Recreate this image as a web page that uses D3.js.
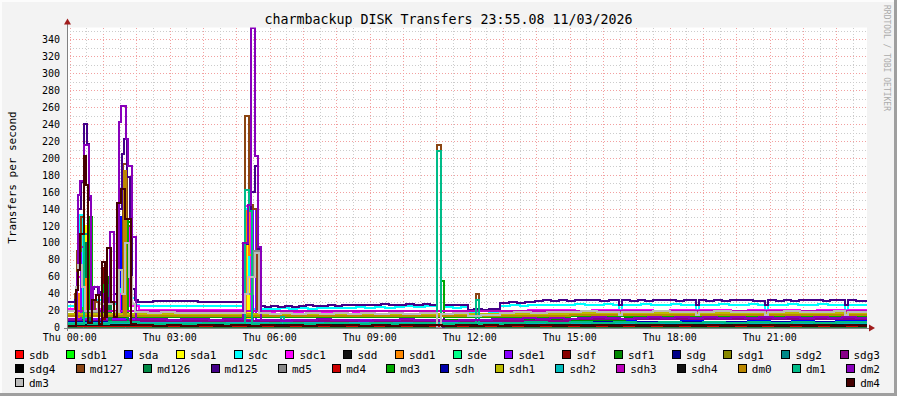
<!DOCTYPE html>
<html>
<head>
<meta charset="utf-8">
<script src="https://cdn.jsdelivr.net/npm/d3@7"></script>
<style>
  html, body { margin: 0; padding: 0; background: #f3f3f3; }
  svg { display: block; font-family: "DejaVu Sans Mono", monospace; }
</style>
</head>
<body>
<svg id="chart" width="897" height="396"></svg>
<script>
// time is minutes after Thu 00:00, each value holds until the next point (step lines)
const sdb   = [[-5,2],[300,2.5],[700,2],[1100,2.5]];
const sdb1  = [[-5,1],[22,40],[27,1],[98,30],[103,1]];
const sda   = [[-5,9],[12,35],[16,9],[40,8],[90,130],[94,9],[125,5],[160,5.5],[200,5],[240,6],[280,5],[330,8],[345,4],[380,4.5],[420,4],[460,5],[500,4.5],[540,5],[580,4.5],[620,5.5],[660,5],[700,6],[740,5.5],[780,6],[820,7],[860,6.5],[900,7],[940,6.5],[980,7.5],[1020,7],[1060,6.5],[1100,7.5],[1140,7],[1180,6.5],[1220,7.5],[1260,7],[1300,8],[1340,7],[1380,7.5]];
const sda1  = [[-5,2],[25,120],[29,2],[96,112],[100,2],[320,115],[324,2],[380,3],[700,2]];
const sdc   = [[-5,25.5],[14,80],[18,133],[24,25],[36,30],[46,33],[60,20],[75,28],[90,45],[100,52],[110,35],[120,26],[125,25.5],[170,25],[215,25.5],[260,25],[316,140],[322,60],[327,22],[345,22],[360,21.5],[378,22.5],[395,22],[410,23],[428,22],[445,23],[462,22.5],[480,23.5],[498,23],[515,24],[532,23.5],[550,24.5],[568,23.5],[585,24.5],[602,25],[620,24],[640,25],[661,1],[673,24],[690,23.5],[705,24.5],[716,18],[735,19],[755,18],[775,25],[792,26],[810,25],[825,26.5],[840,27],[858,26],[875,27],[892,26.5],[910,27.5],[928,26.5],[945,27],[962,28],[978,27],[989,21],[994,27],[1010,26.5],[1028,27.5],[1046,26.5],[1064,27],[1082,28],[1100,27],[1115,26.5],[1127,21],[1132,27],[1150,26],[1168,27.5],[1186,26.5],[1204,27],[1222,28],[1238,27],[1252,21],[1257,27],[1275,26.5],[1293,27.5],[1311,26.5],[1329,27],[1347,28],[1365,27],[1382,26.5],[1396,21],[1401,27],[1418,26.5]];
const sdc1  = [[-5,21.5],[14,60],[20,130],[26,22],[60,15],[90,40],[100,120],[106,25],[125,20.5],[180,21],[240,20.5],[316,143],[327,19],[345,18.5],[370,19],[395,18],[420,19],[450,18.5],[480,19.5],[510,18.5],[540,19],[570,19.5],[600,19],[630,20],[661,1],[673,19],[695,19.5],[716,15],[745,16],[775,19.5],[800,20],[825,21],[850,20.5],[880,21],[910,20],[940,21],[970,20.5],[989,17],[994,20.5],[1020,21],[1050,20],[1080,21],[1110,20.5],[1127,17],[1132,20.5],[1160,21],[1190,20],[1220,21],[1252,17],[1257,20.5],[1285,21],[1315,20],[1345,21],[1375,20.5],[1396,17],[1401,20.5]];
const sdd   = [[-5,2],[40,3],[125,2],[500,2.5],[900,2]];
const sdd1  = [[-5,2],[15,40],[19,2],[30,80],[34,2],[100,60],[104,2],[318,138],[322,85],[328,2],[900,2]];
const sde   = [[-5,1],[30,20],[35,1],[660,1]];
const sde1  = [[-5,10],[20,95],[26,10],[100,120],[104,10],[125,9],[330,140],[336,9],[700,8],[1000,11],[1200,11]];
const sdf   = [[-5,2],[60,70],[64,2],[125,2]];
const sdf1  = [[-5,13],[35,130],[40,13],[65,60],[70,12],[103,125],[110,12],[130,8],[600,9],[1000,12]];
const sdg   = [[-5,5],[125,4],[800,6],[1200,5]];
const sdg1  = [[-5,14],[125,15],[500,13],[900,16],[1200,16]];
const sdg2  = [[-5,3],[125,3],[900,3.5]];
const sdg3  = [[-5,8],[125,8],[900,10]];
const sdg4  = [[-5,1]];
const md127 = [[-5,14],[10,40],[14,90],[20,130],[26,14],[45,30],[50,14],[96,193],[103,120],[110,16],[125,13.5],[150,14.5],[175,13.5],[200,14.5],[225,13.5],[250,14],[275,15],[300,14],[316,249],[323,145],[330,140],[337,20],[344,13],[365,15],[378,12.5],[400,14.5],[420,12.5],[445,14.5],[470,13],[500,15],[515,12.5],[560,14],[580,12.5],[620,14.5],[640,13],[661,215],[668,13],[690,14.5],[705,12.5],[732,40],[737,13],[760,15],[780,13],[820,15],[850,14],[880,16],[910,14.5],[940,16],[980,15],[1010,17],[1040,15],[1080,16],[1110,14.5],[1150,16.5],[1190,15],[1230,16],[1270,14.5],[1310,16],[1350,15],[1390,16.5]];
const md126 = [[-5,4],[25,100],[30,60],[36,4],[70,50],[75,4],[104,100],[110,4],[125,4],[345,3],[900,4.5]];
const md125 = [[-5,30],[10,32],[13,60],[15,140],[20,172],[26,240],[31,216],[35,150],[38,45],[44,48],[51,38],[56,42],[62,30],[70,35],[73,113],[80,40],[86,60],[89,140],[94,205],[98,222],[103,178],[108,130],[112,45],[117,32],[122,30.5],[150,31],[175,31.5],[200,31],[230,30.5],[260,30],[300,30.5],[314,98],[321,140],[327,160],[333,190],[339,93],[344,25],[352,24],[362,25],[375,24.5],[388,25.5],[400,24.5],[412,25],[425,26],[438,25],[450,25.5],[465,26.5],[478,25.5],[490,26],[505,27],[518,26],[530,27],[545,26.5],[560,27.5],[575,26.5],[590,27],[605,28],[620,27],[635,27.5],[648,26.5],[661,1],[673,27],[686,26],[700,27],[716,21],[728,22],[742,21],[755,22],[775,29],[790,30],[805,29],[820,30.5],[838,31],[852,32],[866,31],[880,32.5],[895,31.5],[910,32],[925,33],[940,32],[955,31.5],[970,32.5],[989,26],[994,32],[1008,31],[1022,32.5],[1036,31.5],[1050,32],[1064,33],[1078,32],[1092,31.5],[1106,32.5],[1127,26],[1132,32],[1146,31],[1160,32.5],[1174,31.5],[1188,32],[1202,33],[1216,32],[1230,31.5],[1252,26],[1257,32],[1271,31],[1285,32.5],[1299,31.5],[1313,32],[1327,33],[1341,32],[1355,31.5],[1369,32.5],[1383,32],[1396,26],[1401,32],[1415,31]];
const md5   = [[-5,19],[20,19.5],[30,18],[60,13],[125,13],[160,12.5],[200,13],[240,12.5],[280,13],[316,40],[330,90],[340,13],[380,12],[420,13],[460,12],[500,13],[540,12.5],[580,13.5],[620,12.5],[661,0],[668,13],[700,12.5],[740,13],[780,14],[820,13.5],[860,14.5],[900,14],[940,15],[980,14],[1020,14.5],[1060,15],[1100,14],[1140,14.5],[1180,15],[1220,14],[1260,14.5],[1300,15],[1340,14],[1380,14.5]];
const md4   = [[-5,2],[900,2]];
const md3   = [[-5,13],[35,128],[40,13],[62,50],[66,13],[104,128],[110,13],[125,12],[668,55],[673,12],[900,13]];
const sdh   = [[-5,6],[125,5],[900,6]];
const sdh1  = [[-5,16],[900,17]];
const sdh2  = [[-5,5],[900,5]];
const sdh3  = [[-5,19],[900,20]];
const sdh4  = [[-5,2.5]];
const dm0   = [[-5,14],[98,185],[102,14],[900,15]];
const dm1   = [[-5,4],[25,110],[32,4],[70,7],[125,4],[160,4.5],[200,4],[240,5],[280,4],[316,162],[323,137],[328,4],[360,5],[380,12],[386,5],[420,4.5],[460,5.5],[500,4.5],[540,5],[580,4.5],[620,5.5],[661,208],[668,4],[700,5],[732,32],[737,4],[780,5],[820,6],[860,5],[900,6],[940,5],[980,6],[1020,5.5],[1060,6.5],[1100,5.5],[1140,6],[1180,5],[1220,6],[1260,5.5],[1300,6.5],[1340,5.5],[1380,6]];
const dm2   = [[-5,10],[13,64],[15,156],[19,173],[26,215],[35,155],[38,20],[42,48],[53,20],[60,40],[66,28],[73,113],[80,30],[86,60],[89,242],[93,261],[102,222],[105,190],[112,107],[119,10],[125,9.5],[150,10],[175,9],[200,10],[225,9.5],[250,9],[275,10],[300,9.5],[312,100],[321,145],[327,353],[333,202],[339,95],[344,8.5],[360,9],[380,8],[400,9],[420,8.5],[445,9.5],[470,8.5],[495,9],[520,8],[545,9],[570,8.5],[595,9.5],[620,8.5],[645,9],[670,8],[700,9],[730,8.5],[760,9.5],[790,10],[815,11],[840,10],[865,11.5],[890,10.5],[915,11],[940,12],[965,11],[990,10.5],[1015,11.5],[1040,12],[1065,11],[1090,12],[1115,11.5],[1140,12.5],[1165,11.5],[1190,12],[1215,11],[1240,12],[1265,11.5],[1290,12.5],[1315,11.5],[1340,12],[1365,11],[1390,12],[1415,11.5]];
const dm3   = [[-5,19],[12,48],[15,74],[22,48],[28,20],[50,28],[80,18],[88,68],[94,40],[100,100],[106,60],[112,28],[118,18],[140,17.5],[165,18],[190,17],[215,17.5],[240,17],[265,17.5],[290,17],[316,40],[321,60],[333,88],[340,17],[360,16.5],[380,17.5],[400,16],[425,17],[450,16],[475,17],[500,16.5],[525,17.5],[550,16],[575,17],[600,16],[630,17],[661,0],[668,16],[690,17],[716,14],[740,15],[760,14.5],[775,17],[800,18],[830,17.5],[860,18.5],[890,18],[920,19],[950,18],[980,18.5],[989,15],[994,18.5],[1020,18],[1050,19],[1080,18],[1110,18.5],[1127,15],[1132,18],[1160,19],[1190,18],[1220,18.5],[1252,15],[1257,18.5],[1285,19],[1315,18],[1345,18.5],[1375,19],[1396,15],[1401,18.5]];
const dm4   = [[-5,2],[11,44],[15,68],[19,110],[26,202],[30,168],[33,5],[40,33],[47,38],[53,4],[58,77],[64,12],[67,94],[74,30],[80,12],[85,147],[92,163],[100,128],[110,4],[120,3],[150,2],[175,3],[200,2],[230,3],[260,2],[290,3],[320,2],[345,3],[370,2],[395,3],[420,2],[445,3],[470,2],[495,3],[520,2],[545,3],[570,2],[595,3],[620,2],[645,3],[670,2],[695,3],[720,2],[745,3],[770,2],[795,3],[820,2],[845,3],[870,2],[895,3],[920,2],[945,3],[970,2],[995,3],[1020,2],[1045,3],[1070,2],[1095,3],[1120,2],[1145,3],[1170,2],[1195,3],[1220,2],[1245,3],[1270,2],[1295,3],[1320,2],[1345,3],[1370,2],[1395,3],[1420,2]];

const seriesNames = ["sdb","sdb1","sda","sda1","sdc","sdc1","sdd","sdd1","sde","sde1","sdf","sdf1","sdg","sdg1","sdg2","sdg3",
  "sdg4","md127","md126","md125","md5","md4","md3","sdh","sdh1","sdh2","sdh3","sdh4","dm0","dm1","dm2","dm3","dm4"];
const seriesData = [sdb,sdb1,sda,sda1,sdc,sdc1,sdd,sdd1,sde,sde1,sdf,sdf1,sdg,sdg1,sdg2,sdg3,
  sdg4,md127,md126,md125,md5,md4,md3,sdh,sdh1,sdh2,sdh3,sdh4,dm0,dm1,dm2,dm3,dm4];
const legendRows = [16, 15, 2];

const xTickMinutes = [0, 180, 360, 540, 720, 900, 1080, 1260];
const xTickLabels = ["Thu 00:00","Thu 03:00","Thu 06:00","Thu 09:00","Thu 12:00","Thu 15:00","Thu 18:00","Thu 21:00"];
const yTicks = [0,20,40,60,80,100,120,140,160,180,200,220,240,260,280,300,320,340];

// styles
const colors = ["#ff0000","#00ff00","#0000ff","#ffff00","#00ffff","#ff00ff","#111111","#ff8800","#00ff88","#8800ff","#880000","#008800","#000088","#888800","#008888","#880088",
  "#000000","#8b4513","#008844","#440088","#888888","#cc0000","#00aa00","#0000aa","#bbbb00","#00bbbb","#bb00bb","#111111","#bb8800","#00bb88","#8800bb","#bbbbbb","#440000"];

const W = 897, H = 396;
const plotL = 67, plotR = 867, plotT = 27.5, plotB = 327.5;
const tStart = -4.9, tEnd = 1435.1;

const svg = d3.select("#chart");

// background + 3d frame
svg.append("rect").attr("width", W).attr("height", H).attr("fill", "#f3f3f3");
svg.append("rect").attr("x", 0).attr("y", 0).attr("width", W).attr("height", 2).attr("fill", "#fcfcfc");
svg.append("rect").attr("x", 0).attr("y", 0).attr("width", 2).attr("height", H).attr("fill", "#fcfcfc");
svg.append("rect").attr("x", 0).attr("y", H - 3).attr("width", W).attr("height", 3).attr("fill", "#9f9f9f");
svg.append("rect").attr("x", W - 3).attr("y", 0).attr("width", 3).attr("height", H).attr("fill", "#9f9f9f");

const x = d3.scaleLinear().domain([tStart, tEnd]).range([plotL, plotR]);
const y = d3.scaleLinear().domain([0, 354]).range([plotB, plotT]);

svg.append("rect").attr("x", plotL).attr("y", plotT).attr("width", plotR - plotL).attr("height", plotB - plotT).attr("fill", "#ffffff");

// grid
const grid = svg.append("g").attr("shape-rendering", "crispEdges");
d3.range(0, 1440, 30).filter(t => t > tStart && t < tEnd).forEach(t => {
  const major = t % 60 === 0;
  grid.append("line")
    .attr("x1", Math.round(x(t)) + 0.5).attr("x2", Math.round(x(t)) + 0.5)
    .attr("y1", plotT).attr("y2", plotB)
    .attr("stroke", major ? "#f2a0a0" : "#cccccc")
    .attr("stroke-dasharray", "1,2");
});
d3.range(10, 354, 10).forEach(v => {
  const major = v % 20 === 0;
  grid.append("line")
    .attr("x1", plotL).attr("x2", plotR)
    .attr("y1", Math.round(y(v)) + 0.5).attr("y2", Math.round(y(v)) + 0.5)
    .attr("stroke", major ? "#f2a0a0" : "#cccccc")
    .attr("stroke-dasharray", "1,2");
});

// series, drawn in legend order like rrdtool
svg.append("clipPath").attr("id", "plot").append("rect")
  .attr("x", plotL).attr("y", plotT).attr("width", plotR - plotL).attr("height", plotB - plotT);
const line = d3.line()
  .x(d => Math.round(x(d[0])))
  .y(d => Math.round(y(d[1])))
  .curve(d3.curveStepAfter);
const lines = svg.append("g").attr("clip-path", "url(#plot)");
seriesData.forEach((s, i) => {
  const pts = s.map(p => [Math.max(p[0], tStart), p[1]]);
  pts.push([tEnd, s[s.length - 1][1]]);
  lines.append("path")
    .attr("d", line(pts))
    .attr("fill", "none")
    .attr("stroke", colors[i])
    .attr("stroke-width", 2)
    .attr("shape-rendering", "crispEdges");
});

// axes with arrows
svg.append("line").attr("x1", plotL - 3).attr("x2", plotR + 4).attr("y1", plotB + 0.5).attr("y2", plotB + 0.5)
  .attr("stroke", "#808080").attr("shape-rendering", "crispEdges");
svg.append("line").attr("x1", plotL + 0.5).attr("x2", plotL + 0.5).attr("y1", plotB + 3).attr("y2", plotT - 4)
  .attr("stroke", "#808080").attr("shape-rendering", "crispEdges");
svg.append("path").attr("d", `M${plotR + 2},${plotB - 3}L${plotR + 8},${plotB + 0.5}L${plotR + 2},${plotB + 4}Z`).attr("fill", "#a01c1c");
svg.append("path").attr("d", `M${plotL - 3},${plotT - 3}L${plotL + 0.5},${plotT - 9}L${plotL + 4},${plotT - 3}Z`).attr("fill", "#a01c1c");

// tick labels
svg.append("g").selectAll("text").data(yTicks).join("text")
  .attr("x", 60).attr("y", d => y(d) + 3.7)
  .attr("text-anchor", "end").attr("font-size", 10).attr("fill", "#000")
  .text(d => d);
svg.append("g").selectAll("text").data(xTickMinutes).join("text")
  .attr("x", d => x(d)).attr("y", 341)
  .attr("text-anchor", "middle").attr("font-size", 10).attr("fill", "#000")
  .text((d, i) => xTickLabels[i]);

// title, unit, watermark
svg.append("text").attr("x", W / 2).attr("y", 24).attr("text-anchor", "middle")
  .attr("font-size", 13.3).attr("fill", "#000")
  .text("charmbackup DISK Transfers 23:55.08 11/03/2026");
svg.append("text").attr("transform", "translate(15.5,177.5) rotate(-90)").attr("text-anchor", "middle")
  .attr("font-size", 11).attr("fill", "#000").text("Transfers per second");
svg.append("text").attr("transform", "translate(884,5) rotate(90)").attr("text-anchor", "start")
  .attr("font-size", 8).attr("fill", "#ababab").text("RRDTOOL / TOBI OETIKER");

// legend, justified like rrdtool
const legend = svg.append("g");
const ctx = document.createElement("canvas").getContext("2d");
ctx.font = "11px 'DejaVu Sans Mono'";
const legLeft = 15, legRight = 880;
let idx = 0;
legendRows.forEach((n, row) => {
  const items = d3.range(idx, idx + n);
  idx += n;
  const widths = items.map(i => 14 + ctx.measureText(seriesNames[i]).width);
  const gap = n > 1 ? (legRight - legLeft - d3.sum(widths)) / (n - 1) : 0;
  let cx = legLeft;
  items.forEach((i, k) => {
    const yy = 350 + row * 14;
    legend.append("rect").attr("x", Math.round(cx) + 0.5).attr("y", yy + 0.5).attr("width", 8).attr("height", 8)
      .attr("fill", colors[i]).attr("stroke", "#000").attr("shape-rendering", "crispEdges");
    legend.append("text").attr("x", cx + 14).attr("y", yy + 8.5)
      .attr("font-size", 11).attr("fill", "#000").text(seriesNames[i]);
    cx += widths[k] + gap;
  });
});
</script>
</body>
</html>
